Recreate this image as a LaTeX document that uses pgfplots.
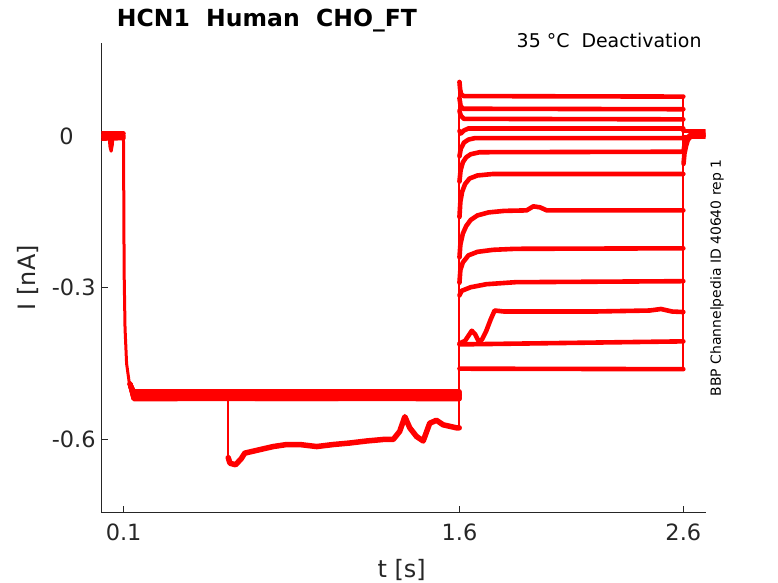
\documentclass[border=0pt]{standalone}
\usepackage{pgfplots}
\pgfplotsset{compat=1.18}
\usepackage{fontspec}
\setmainfont{DejaVu Sans}
\definecolor{axgray}{RGB}{38,38,38}
\definecolor{tr}{RGB}{255,0,0}
\tikzset{
  trc/.style={color=tr, line width=4.6bp, line join=round, line cap=round},
  thn/.style={color=tr, line width=2bp, line join=round},
}
\begin{document}
\begin{tikzpicture}
\useasboundingbox (-101.3bp,-70.7bp) rectangle (676.7bp,512.3bp);
\begin{axis}[
  at={(0,0)}, anchor=south west,
  scale only axis, width=604.4bp, height=469.3bp,
  xmin=0, xmax=2.7, ymin=-0.744, ymax=0.184,
  axis lines*=left,
  axis line style={-, draw=axgray, line width=0.6bp},
  tick align=inside, major tick length=6.3bp,
  tick style={draw=axgray, line width=0.6bp},
  xtick={0.1,1.6,2.6}, xticklabels={0.1,1.6,2.6},
  ytick={-0.6,-0.3,0}, yticklabels={-0.6,-0.3,0\kern22bp},
  tick label style={font=\fontsize{22.5}{26}\selectfont, text=axgray},
  xticklabel style={yshift=-8bp},
  yticklabel style={xshift=-2.2bp},
  /pgf/number format/assume math mode=true,
]
% --- pre-step baseline
\addplot[trc] coordinates {(0,0.005) (0.099,0.005)};
\addplot[trc] coordinates {(0,0.0) (0.099,0.0)};
\addplot[trc] coordinates {(0,-0.005) (0.099,-0.004)};
\addplot[trc, line width=3bp] coordinates {(0.035,-0.002) (0.039,-0.022) (0.044,-0.030) (0.049,-0.018) (0.052,-0.002)};
% --- drop at 0.1 s
\addplot[color=tr, line width=3bp, line join=round] coordinates {(0.099,0.004) (0.100,-0.08) (0.102,-0.27) (0.106,-0.38) (0.113,-0.45) (0.124,-0.485) (0.136,-0.499) (0.16,-0.508)};
% --- step 1 (hyperpolarisation) band
\addplot[trc] coordinates {(0.128,-0.490) (0.145,-0.505) (1.6,-0.505)};
\addplot[trc] coordinates {(0.128,-0.490) (0.145,-0.508) (1.6,-0.507)};
\addplot[trc] coordinates {(0.128,-0.490) (0.145,-0.511) (1.6,-0.510)};
\addplot[trc] coordinates {(0.128,-0.490) (0.145,-0.514) (1.6,-0.513)};
\addplot[trc] coordinates {(0.128,-0.490) (0.145,-0.517) (1.6,-0.516)};
\addplot[trc] coordinates {(0.128,-0.490) (0.145,-0.520) (1.6,-0.519)};
\addplot[trc] coordinates {(0.128,-0.490) (0.145,-0.506) (1.6,-0.508)};
\addplot[trc] coordinates {(0.128,-0.490) (0.145,-0.509) (1.6,-0.511)};
\addplot[trc] coordinates {(0.128,-0.490) (0.145,-0.513) (1.6,-0.514)};
\addplot[trc] coordinates {(0.128,-0.490) (0.145,-0.516) (1.6,-0.517)};
\addplot[trc] coordinates {(0.128,-0.490) (0.145,-0.519) (1.6,-0.520)};
\addplot[trc] coordinates {(0.128,-0.490) (0.145,-0.512) (1.6,-0.512)};
% --- excursion trace
\addplot[color=tr, line width=1.2bp] coordinates {(0.566,-0.512) (0.566,-0.640)};
\addplot[trc, line width=5.5bp] coordinates {(0.567,-0.636) (0.575,-0.647) (0.600,-0.650) (0.625,-0.638) (0.641,-0.627) (0.709,-0.620) (0.768,-0.614) (0.828,-0.610) (0.887,-0.610) (0.962,-0.614) (1.036,-0.610) (1.110,-0.607) (1.185,-0.603) (1.259,-0.600) (1.304,-0.600) (1.333,-0.584) (1.356,-0.555) (1.378,-0.577) (1.408,-0.594) (1.438,-0.603) (1.467,-0.568) (1.497,-0.562) (1.527,-0.571) (1.557,-0.574) (1.587,-0.577) (1.599,-0.577)};
% --- jump at 1.6 s
\addplot[thn] coordinates {(1.6,-0.58) (1.6,0.107)};
% --- step 2 (deactivation) traces
\addplot[trc] coordinates {(1.6,0.107) (1.603,0.092) (1.608,0.082) (1.62,0.079) (2.6,0.078)};
\addplot[trc] coordinates {(1.6,0.075) (1.605,0.060) (1.615,0.054) (2.6,0.053)};
\addplot[trc] coordinates {(1.6,0.050) (1.606,0.040) (1.62,0.034) (2.6,0.033)};
\addplot[trc] coordinates {(1.6,0.010) (1.606,0.005) (1.62,0.011) (1.64,0.015) (2.6,0.015)};
\addplot[trc] coordinates {(1.6,-0.040) (1.606,-0.025) (1.62,-0.013) (1.64,-0.007) (1.67,-0.004) (2.6,-0.004)};
\addplot[trc] coordinates {(1.6,-0.090) (1.605,-0.068) (1.615,-0.052) (1.63,-0.042) (1.65,-0.036) (1.69,-0.032) (2.6,-0.031)};
\addplot[trc] coordinates {(1.6,-0.160) (1.604,-0.130) (1.612,-0.110) (1.625,-0.095) (1.645,-0.084) (1.68,-0.078) (1.75,-0.075) (2.6,-0.075)};
\addplot[trc] coordinates {(1.6,-0.240) (1.604,-0.215) (1.615,-0.193) (1.63,-0.178) (1.65,-0.166) (1.68,-0.157) (1.73,-0.151) (1.80,-0.148) (1.90,-0.147) (1.93,-0.139) (1.96,-0.141) (1.99,-0.147) (2.6,-0.147)};
\addplot[trc] coordinates {(1.6,-0.290) (1.604,-0.265) (1.615,-0.250) (1.64,-0.236) (1.68,-0.229) (1.75,-0.225) (1.85,-0.223) (2.6,-0.222)};
\addplot[trc] coordinates {(1.6,-0.315) (1.61,-0.306) (1.65,-0.299) (1.72,-0.293) (1.85,-0.289) (2.6,-0.287)};
\addplot[trc] coordinates {(1.6,-0.410) (1.625,-0.405) (1.64,-0.395) (1.655,-0.385) (1.67,-0.392) (1.685,-0.405) (1.70,-0.403) (1.72,-0.385) (1.74,-0.362) (1.757,-0.345) (1.80,-0.347) (2.2,-0.347) (2.45,-0.345) (2.5,-0.342) (2.55,-0.347) (2.6,-0.348)};
\addplot[trc] coordinates {(1.6,-0.412) (2.6,-0.406)};
\addplot[trc] coordinates {(1.6,-0.460) (2.6,-0.461)};
% --- jump at 2.6 s and return to holding
\addplot[thn] coordinates {(2.6,-0.465) (2.6,0.080)};
\addplot[trc] coordinates {(2.601,-0.055) (2.605,-0.035) (2.612,-0.020) (2.62,-0.008) (2.635,0.0) (2.65,0.003) (2.695,0.003)};
\addplot[trc] coordinates {(2.601,-0.030) (2.606,-0.015) (2.615,-0.005) (2.63,0.002) (2.695,0.002)};
\addplot[trc] coordinates {(2.601,0.010) (2.695,0.010)};
\addplot[trc] coordinates {(2.601,-0.002) (2.695,-0.002)};
\end{axis}
% --- texts
\node[inner sep=0pt, anchor=base west, font=\fontsize{23.6}{27}\selectfont\bfseries, text=black] at (15.4bp,485.6bp) {HCN1\ \ Human\ \ CHO\_FT};
\node[inner sep=0pt, anchor=base east, font=\fontsize{19}{23}\selectfont, text=black] at (600.4bp,465bp) {35 °C\ \ Deactivation};
\node[inner sep=0pt, rotate=90, anchor=center, font=\fontsize{14}{17}\selectfont, text=black] at (615.7bp,234.3bp) {BBP Channelpedia ID 40640 rep 1};
\node[inner sep=0pt, rotate=90, anchor=base, font=\fontsize{24}{28}\selectfont, text=axgray] at (-66.2bp,234.6bp) {I [nA]};
\node[inner sep=0pt, anchor=base, font=\fontsize{24}{28}\selectfont, text=axgray] at (300.4bp,-65.2bp) {t [s]};
\end{tikzpicture}
\end{document}
